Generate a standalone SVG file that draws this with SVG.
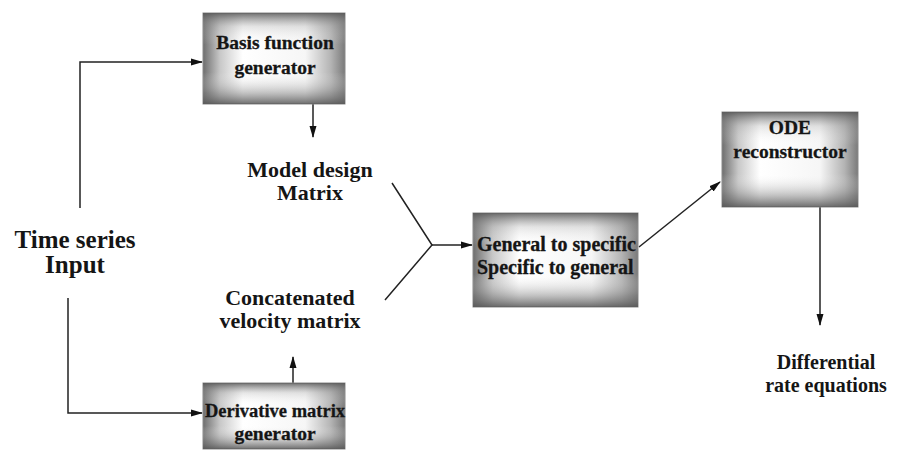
<svg xmlns="http://www.w3.org/2000/svg" width="907" height="454" viewBox="0 0 907 454">
<defs>
<linearGradient id="gh" x1="0" y1="0" x2="1" y2="0">
<stop offset="0" stop-color="#6e6e6e"/>
<stop offset="0.12" stop-color="#c8c8c8"/>
<stop offset="0.28" stop-color="#ffffff"/>
<stop offset="0.72" stop-color="#f6f6f6"/>
<stop offset="0.9" stop-color="#b4b4b4"/>
<stop offset="1" stop-color="#7a7a7a"/>
</linearGradient>
<linearGradient id="gv" x1="0" y1="0" x2="0" y2="1">
<stop offset="0" stop-color="#555" stop-opacity="0.85"/>
<stop offset="0.15" stop-color="#999" stop-opacity="0.25"/>
<stop offset="0.35" stop-color="#fff" stop-opacity="0"/>
<stop offset="0.65" stop-color="#fff" stop-opacity="0"/>
<stop offset="0.88" stop-color="#777" stop-opacity="0.45"/>
<stop offset="1" stop-color="#555" stop-opacity="0.85"/>
</linearGradient>
<marker id="ah" markerWidth="12" markerHeight="8" refX="11" refY="4" orient="auto" markerUnits="userSpaceOnUse">
<path d="M0,0.5 L12,4 L0,7.5 Z" fill="#111"/>
</marker>
<style>
.box{fill:url(#gh);stroke:#8a8a8a;stroke-width:1}
.sh{fill:url(#gv)}
text{font-family:"Liberation Serif","Times New Roman",serif;font-weight:bold;fill:#151515;font-size:22px}
.c{text-anchor:middle}
.big{font-size:25px}
.bx{font-size:19.5px;stroke:#151515;stroke-width:0.3}
.df{font-size:20px}
.ln{fill:none;stroke:#222;stroke-width:1.5}
.ar{fill:none;stroke:#222;stroke-width:1.5;marker-end:url(#ah)}
</style>
</defs>
<g id="connectors">
<path class="ar" d="M80,208 V62 H202"/>
<path class="ar" d="M68,298 V413 H202"/>
<path class="ar" d="M313,104 V137"/>
<path class="ar" d="M293,383 V357"/>
<path class="ln" d="M392,183 L432,245 L385,300"/>
<path class="ar" d="M432,245 H472"/>
<path class="ar" d="M639,247 L720,182"/>
<path class="ar" d="M820,207 V325"/>
</g>
<g id="time-series">
<text class="c big" x="75" y="248">Time series</text>
<text class="c big" x="75" y="273">Input</text>
</g>
<g id="basis">
<rect class="box" x="203" y="13" width="142" height="91"/>
<rect class="sh" x="203" y="13" width="142" height="91"/>
<text class="c bx" x="275" y="49">Basis function</text>
<text class="c bx" x="275" y="74">generator</text>
</g>
<g id="model-design">
<text class="c" x="310" y="177">Model design</text>
<text class="c" x="310" y="200">Matrix</text>
</g>
<g id="concatenated">
<text class="c" x="290" y="305">Concatenated</text>
<text class="c" x="290" y="328">velocity matrix</text>
</g>
<g id="derivative">
<rect class="box" x="203" y="383" width="142" height="66"/>
<rect class="sh" x="203" y="383" width="142" height="66"/>
<text class="c bx" x="275" y="417" style="font-size:18.5px">Derivative matrix</text>
<text class="c bx" x="275" y="440">generator</text>
</g>
<g id="general">
<rect class="box" x="473" y="213" width="165" height="94"/>
<rect class="sh" x="473" y="213" width="165" height="94"/>
<text class="bx" x="477" y="251" style="font-size:20px">General to specific</text>
<text class="bx" x="477" y="274" style="font-size:20px">Specific to general</text>
</g>
<g id="ode">
<rect class="box" x="722" y="112" width="136" height="95"/>
<rect class="sh" x="722" y="112" width="136" height="95"/>
<text class="c bx" x="790" y="134">ODE</text>
<text class="c bx" x="790" y="158">reconstructor</text>
</g>
<g id="differential">
<text class="c df" x="826" y="369">Differential</text>
<text class="c df" x="826" y="392">rate equations</text>
</g>
</svg>
